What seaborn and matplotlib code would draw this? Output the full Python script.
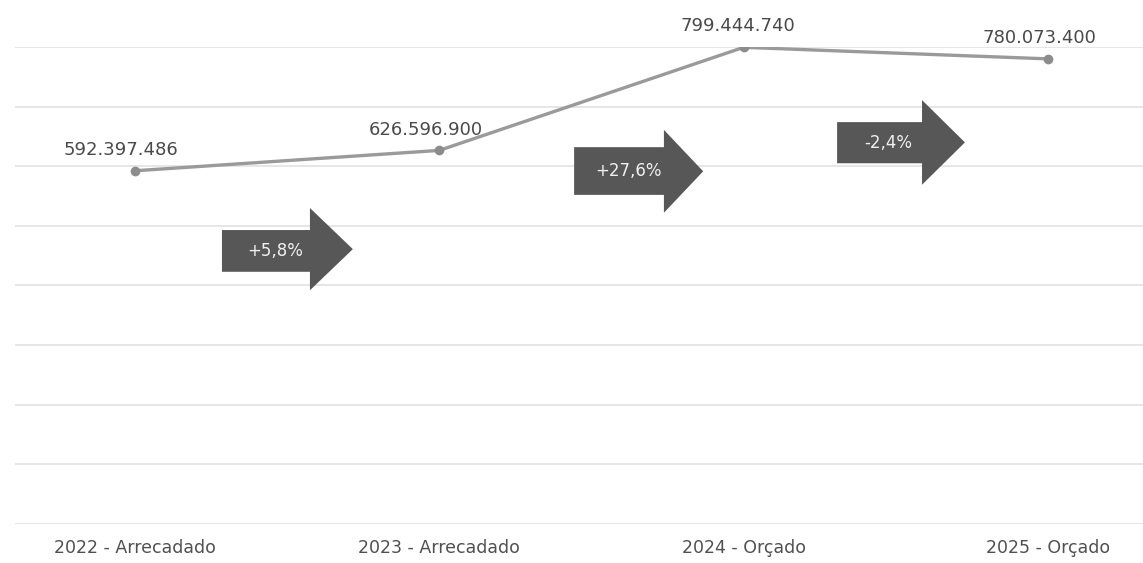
import matplotlib
matplotlib.use("Agg")
import matplotlib.pyplot as plt
import seaborn as sns
import pandas as pd
from matplotlib.patches import Polygon

categories = ["2022 - Arrecadado", "2023 - Arrecadado", "2024 - Orçado", "2025 - Orçado"]
values = [592397486, 626596900, 799444740, 780073400]
value_labels = ["592.397.486", "626.596.900", "799.444.740", "780.073.400"]
pct_labels = ["+5,8%", "+27,6%", "-2,4%"]

sns.set_theme(style="white")
plt.rcParams['font.family'] = ['DejaVu Sans']

df = pd.DataFrame({"cat": categories, "x": range(len(categories)), "val": values})

fig = plt.figure(figsize=(11.43, 5.63), dpi=100)
ax = fig.add_axes([15/1143, 39/563, 1128/1143, 477/563])

sns.lineplot(data=df, x="x", y="val", ax=ax, color="#9a9a9a", linewidth=2.4,
             marker="o", markersize=7, markeredgewidth=0, markerfacecolor="#8c8c8c", zorder=3)

ax.set_xlim(-0.394, 3.312)
ax.set_ylim(0, 800e6)
ax.set_yticks([i * 100e6 for i in range(9)])
ax.yaxis.grid(True, color="#e2e2e2", linewidth=1.2)
ax.xaxis.grid(False)
ax.set_yticklabels([])
ax.tick_params(axis="y", length=0)
for s in ax.spines.values():
    s.set_visible(False)
ax.set_xticks(range(len(categories)))
ax.set_xticklabels(categories, fontsize=12.5, color="#505050")
ax.tick_params(axis="x", length=0, pad=11)
ax.set_xlabel("")
ax.set_ylabel("")

for i, (v, lab) in enumerate(zip(values, value_labels)):
    dx = -10 if i in (0, 1) else (-4 if i == 2 else -6)
    ax.annotate(lab, (i, v), xytext=(dx, 15), textcoords="offset points",
                ha="center", va="center", fontsize=13, color="#4a4a4a")

# arrow geometry (data coords): left, head start, tip, body bottom, body top, head bottom, head top
arrows = [
    (0.286, 0.575, 0.716, 423e6, 493e6, 392e6, 530e6),
    (1.443, 1.738, 1.867, 552e6, 632e6, 522e6, 661e6),
    (2.307, 2.586, 2.727, 605e6, 674e6, 569e6, 711e6),
]
for (l, hs, tip, bb, bt, hb, ht), lab in zip(arrows, pct_labels):
    mid = (hb + ht) / 2
    poly = Polygon([(l, bb), (hs, bb), (hs, hb), (tip, mid), (hs, ht), (hs, bt), (l, bt)],
                   closed=True, facecolor="#575757", edgecolor="none", zorder=4)
    ax.add_patch(poly)
    ax.text((l + hs) / 2 + 0.03, (bb + bt) / 2, lab, ha="center", va="center",
            fontsize=12, color="#f0f0f0", zorder=5)

fig.savefig("out.png", dpi=100, facecolor="white")
